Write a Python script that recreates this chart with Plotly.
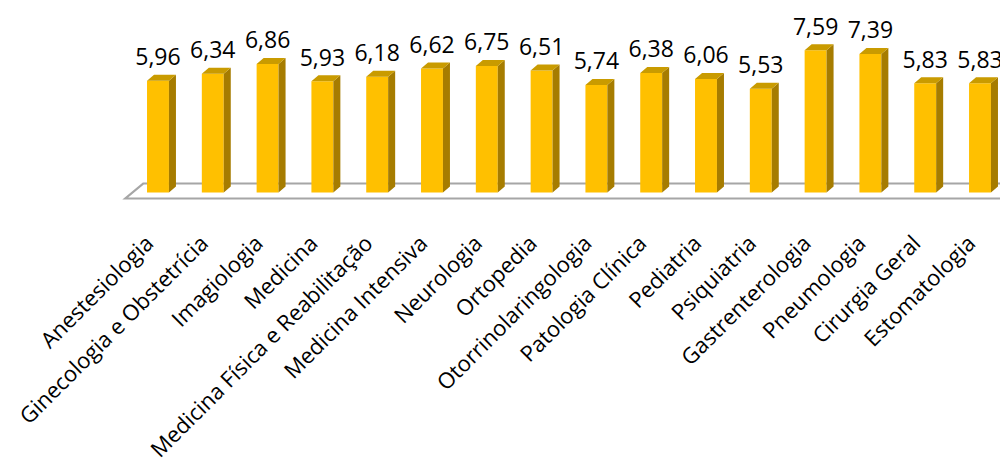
import plotly.graph_objects as go

categories = ["Anestesiologia", "Ginecologia e Obstetrícia", "Imagiologia", "Medicina",
              "Medicina Física e Reabilitação", "Medicina Intensiva", "Neurologia", "Ortopedia",
              "Otorrinolaringologia", "Patologia Clínica", "Pediatria", "Psiquiatria",
              "Gastrenterologia", "Pneumologia", "Cirurgia Geral", "Estomatologia"]
values = [5.96, 6.34, 6.86, 5.93, 6.18, 6.62, 6.75, 6.51, 5.74, 6.38, 6.06, 5.53, 7.59, 7.39, 5.83, 5.83]
labels = [f"{v:.2f}".replace(".", ",") for v in values]

n = len(categories)
idx = list(range(n))
W = 0.40      # front face width (category units)
DX = 0.128    # depth offset x
DY = 0.32     # depth offset y

FRONT = "#FFC000"
SIDE = "#A67C00"
TOP = "#C99B00"

side_x, side_y, top_x, top_y = [], [], [], []
for i, v in zip(idx, values):
    r = i + W / 2
    l = i - W / 2
    side_x += [r, r + DX, r + DX, r, r, None]
    side_y += [0, DY, v + DY, v, 0, None]
    top_x += [l, r, r + DX, l + DX, l, None]
    top_y += [v, v, v + DY, v + DY, v, None]

fig = go.Figure()
fig.add_trace(go.Bar(x=idx, y=values, width=W, marker=dict(color=FRONT, line=dict(width=0)),
                     hoverinfo="skip", showlegend=False))
fig.add_trace(go.Scatter(x=side_x, y=side_y, fill="toself", fillcolor=SIDE, mode="lines",
                         line=dict(width=0, color=SIDE), hoverinfo="skip", showlegend=False))
fig.add_trace(go.Scatter(x=top_x, y=top_y, fill="toself", fillcolor=TOP, mode="lines",
                         line=dict(width=0, color=TOP), hoverinfo="skip", showlegend=False))
fig.add_trace(go.Scatter(x=idx, y=[v + DY + 0.2 for v in values],
                         mode="text", text=labels, textposition="top center",
                         textfont=dict(family="Open Sans", size=23, color="#000000"),
                         cliponaxis=False, hoverinfo="skip", showlegend=False))

# floor plane
fl, fr = -0.6, n - 1 + 0.45
fy = -0.32
by = 0.48
bdx = 0.33
path = f"M {fl},{fy} L {fr},{fy} L {fr + bdx},{by} L {fl + bdx},{by} Z"
fig.add_shape(type="path", path=path, xref="x", yref="y", layer="below",
              line=dict(color="#A6A6A6", width=2), fillcolor="#FFFFFF")

fig.update_layout(
    width=1008, height=467,
    margin=dict(l=92, r=8, t=0, b=273),
    plot_bgcolor="white", paper_bgcolor="white",
    xaxis=dict(range=[-1.058, 15.511], tickvals=[i - 0.2 for i in idx], ticktext=categories,
               tickangle=-45, ticklabeloverflow="allow",
               showgrid=False, zeroline=False, showline=False, ticks="",
               ticklabelstandoff=23,
               tickfont=dict(family="Open Sans", size=22, color="#000000")),
    yaxis=dict(range=[-0.5, 9.84], visible=False),
)

fig.write_html("out.html")
